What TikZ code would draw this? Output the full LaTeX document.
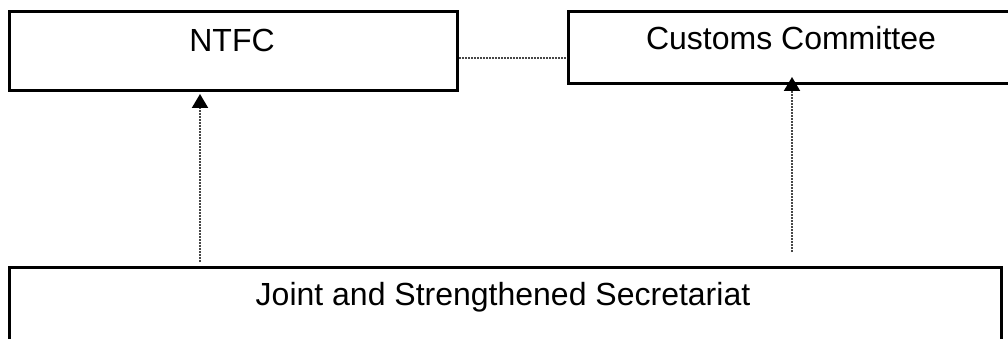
\documentclass[tikz,border=0pt]{standalone}
\usepackage{fontspec}
\setmainfont{Liberation Sans}
\usetikzlibrary{arrows.meta}
\begin{document}
\begin{tikzpicture}[x=1pt,y=-1pt,
  box/.style={draw=black,line width=3pt,inner sep=0pt},
  lbl/.style={font=\fontsize{32}{38}\selectfont,inner sep=0pt,anchor=base},
  link/.style={draw=black!72,line width=2pt,dash pattern=on 1.6pt off 1.4pt},
  arr/.style={link,-{Triangle[length=14pt,width=16pt,black]}}]
\clip (0,0) rectangle (1008,339);
\fill[white] (0,0) rectangle (1008,339);
\node[box,minimum width=448pt,minimum height=79pt,anchor=north west] (ntfc) at (8,10) {};
\node[box,minimum width=460pt,minimum height=72pt,anchor=north west] (customs) at (567,10) {};
\node[box,minimum width=992pt,minimum height=100pt,anchor=north west] (joint) at (8,266) {};
\node[lbl] (ntfct) at (232,52) {NTFC};
\node[lbl] (customst) at (791,50) {Customs Committee};
\node[lbl] (jointt) at (503,305) {Joint and Strengthened Secretariat};
\draw[link] (ntfc.east |- 0,58) -- (customs.west |- 0,58);
\draw[arr,shorten <=4pt,shorten >=2pt] (joint.north -| 200,0) -- (ntfc.south -| 200,0);
\draw[arr,shorten <=14pt,shorten >=-8pt] (joint.north -| 792,0) -- (customs.south -| 792,0);
\end{tikzpicture}
\end{document}
